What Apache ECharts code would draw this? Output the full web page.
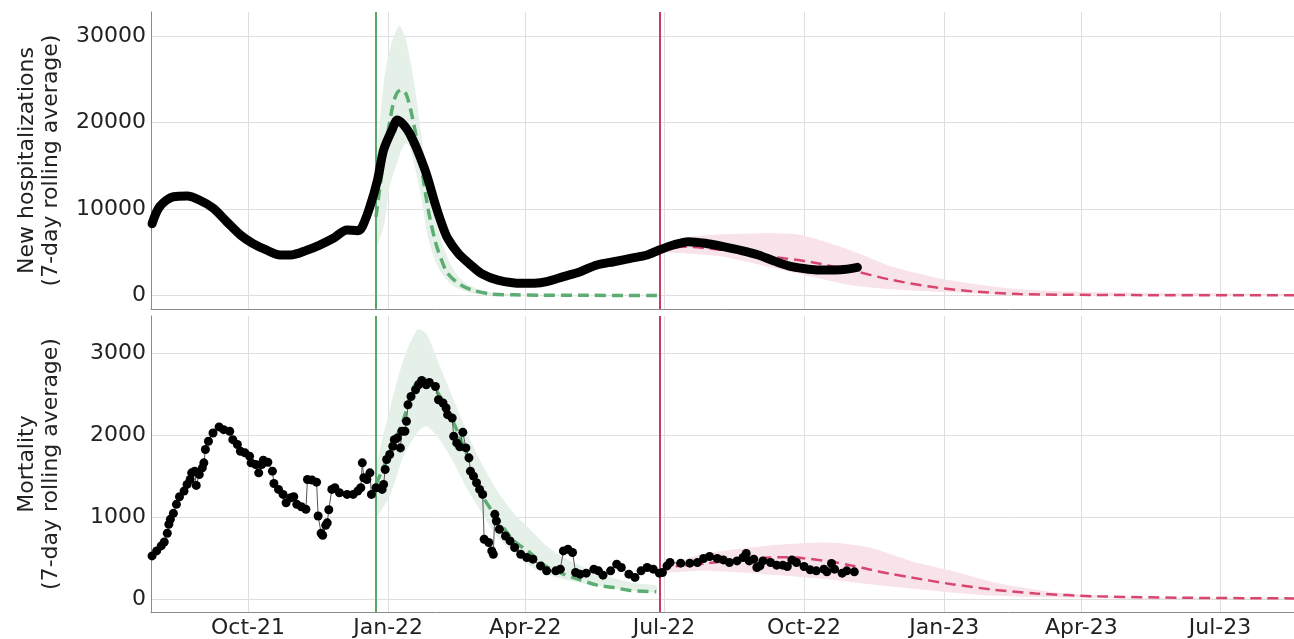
<!DOCTYPE html>
<html>
<head>
<meta charset="utf-8">
<script src="https://cdn.jsdelivr.net/npm/echarts@6/dist/echarts.min.js"></script>
<style>
  html, body { margin: 0; padding: 0; background: #fff; }
  #chart { width: 1294px; height: 639px; }
</style>
</head>
<body>
<div id="chart"></div>
<script>
// all x values are days counted from 2021-10-01
const tickDays = [0, 92, 182, 273, 365, 457, 547, 638]
const tickLabels = ['Oct-21', 'Jan-22', 'Apr-22', 'Jul-22', 'Oct-22', 'Jan-23', 'Apr-23', 'Jul-23']
const xMin = -63.7
const xMax = 686.6
const fitStartDay = 84     // green vertical line
const projStartDay = 270   // crimson vertical line

// new hospitalizations, 7-day rolling average
const hospDays = [-63, -58, -49, -40, -32, -23, -14, -5, 3, 12, 21, 28, 39, 47, 56, 65, 72, 75, 80, 85, 89, 95, 98, 106, 116, 123, 127, 131, 138, 145, 153, 164, 180, 188, 196, 207, 218, 229, 240, 251, 262, 270, 279, 289, 300, 312, 324, 335, 346, 357, 368, 379, 389, 400]
const hospVals = [8300, 10280, 11430, 11500, 11050, 10120, 8540, 7000, 6040, 5270, 4690, 4690, 5270, 5840, 6620, 7580, 7500, 7960, 10280, 13370, 16840, 19350, 20310, 18770, 14600, 10500, 8360, 6620, 4880, 3730, 2570, 1790, 1410, 1420, 1600, 2180, 2760, 3530, 3910, 4300, 4690, 5270, 5840, 6230, 6050, 5650, 5200, 4690, 3950, 3330, 3050, 2950, 2980, 3260]

// hospitalizations: fit from the green line
const hospFitDays = [84, 89, 95, 98, 101, 104, 108, 113, 118, 123, 127, 131, 138, 147, 160, 175, 192, 218, 270]
const hospFitVals = [9100, 15680, 22000, 23500, 23800, 23200, 20500, 15800, 10200, 6200, 4110, 2570, 1410, 640, 170, 80, 40, 20, 10]
const hospFitBandDays = [84, 89, 93, 99, 103, 106, 110, 113, 118, 123, 127, 132, 138, 147, 160, 180, 270]
const hospFitLow = [5700, 7960, 12590, 16000, 17600, 17200, 14500, 12000, 6800, 4000, 2600, 1500, 800, 250, 50, 0, 0]
const hospFitHigh = [14000, 24600, 28400, 31190, 30000, 27640, 23500, 19540, 13500, 8800, 6400, 4000, 2200, 1000, 350, 120, 20]

// hospitalizations: projection from the crimson line
const hospProjDays = [270, 285, 312, 340, 368, 395, 423, 451, 478, 506, 534, 592, 687]
const hospProjVals = [5100, 5650, 5270, 4570, 3910, 2950, 1790, 950, 440, 170, 90, 40, 30]
const hospProjBandDays = [270, 285, 312, 360, 395, 423, 460, 506, 561, 687]
const hospProjLow = [5000, 4880, 4490, 2570, 1220, 720, 370, 0, 0, 0]
const hospProjHigh = [5400, 6620, 7080, 7080, 5270, 3330, 1790, 720, 370, 170]

// mortality, 7-day rolling average
const mortDays = [-63, -60, -57, -55, -53, -52, -51, -49, -47, -45, -42, -40, -38, -37, -35, -34, -32, -30, -29, -28, -26, -23, -19, -16, -12, -10, -7, -5, -2, 1, 2, 5, 7, 9, 10, 13, 16, 17, 20, 23, 25, 28, 30, 32, 35, 38, 39, 42, 45, 46, 48, 49, 51, 52, 53, 55, 57, 60, 65, 69, 72, 74, 75, 76, 78, 80, 81, 84, 88, 89, 90, 91, 93, 95, 96, 98, 100, 101, 103, 104, 105, 107, 110, 112, 114, 117, 119, 123, 125, 128, 130, 131, 134, 135, 137, 139, 141, 143, 145, 146, 148, 150, 152, 154, 155, 158, 160, 161, 162, 163, 165, 169, 172, 175, 179, 183, 187, 192, 196, 202, 205, 207, 210, 213, 215, 218, 222, 227, 230, 233, 238, 242, 245, 250, 254, 258, 262, 266, 270, 272, 275, 277, 284, 290, 295, 299, 303, 308, 312, 316, 321, 325, 327, 329, 332, 334, 336, 338, 343, 347, 351, 354, 357, 360, 365, 369, 373, 378, 380, 383, 385, 390, 393, 398]
const mortVals = [527, 588, 649, 697, 803, 912, 973, 1046, 1156, 1249, 1318, 1399, 1460, 1541, 1561, 1387, 1521, 1602, 1663, 1825, 1926, 2027, 2101, 2068, 2048, 1946, 1886, 1804, 1785, 1744, 1663, 1642, 1541, 1642, 1695, 1670, 1561, 1411, 1338, 1277, 1176, 1237, 1249, 1156, 1127, 1095, 1460, 1452, 1427, 1014, 803, 778, 900, 930, 1090, 1338, 1359, 1298, 1277, 1277, 1318, 1359, 1663, 1480, 1460, 1541, 1277, 1359, 1338, 1399, 1582, 1703, 1764, 1865, 1946, 1967, 1845, 2048, 2048, 2169, 2372, 2473, 2555, 2616, 2668, 2616, 2644, 2595, 2433, 2393, 2332, 2251, 2210, 1987, 1906, 1858, 2035, 1845, 1724, 1561, 1500, 1420, 1338, 1277, 730, 690, 588, 547, 1034, 953, 852, 770, 710, 629, 547, 507, 487, 405, 344, 344, 365, 588, 608, 568, 324, 304, 316, 365, 344, 292, 344, 426, 385, 304, 264, 344, 385, 365, 316, 324, 405, 446, 438, 438, 446, 495, 519, 495, 478, 446, 466, 507, 556, 466, 487, 385, 405, 466, 446, 414, 414, 397, 478, 446, 397, 357, 344, 365, 332, 434, 365, 316, 344, 332]

// mortality: fit from the green line
const mortFitDays = [84, 93, 102, 108, 113, 119, 126, 135, 144, 152, 163, 174, 185, 196, 207, 218, 229, 240, 251, 268]
const mortFitVals = [1400, 1785, 2190, 2555, 2676, 2656, 2473, 2150, 1744, 1320, 1000, 720, 568, 395, 304, 235, 170, 140, 105, 90]
const mortFitBandDays = [84, 93, 102, 111, 117, 126, 135, 144, 152, 163, 174, 185, 196, 207, 229, 251, 268]
const mortFitLow = [1014, 1257, 1744, 2027, 2108, 1946, 1663, 1338, 1095, 770, 568, 405, 304, 243, 162, 105, 89]
const mortFitHigh = [1582, 2311, 2920, 3285, 3240, 2838, 2433, 2027, 1703, 1338, 1055, 852, 649, 507, 324, 203, 162]

// mortality: projection from the crimson line
const mortProjDays = [270, 281, 298, 327, 352, 380, 396, 408, 421, 435, 462, 490, 517, 558, 613, 687]
const mortProjVals = [340, 400, 430, 487, 510, 465, 410, 360, 310, 264, 182, 113, 69, 33, 16, 8]
const mortProjBandDays = [270, 298, 339, 380, 408, 435, 462, 490, 531, 585, 687]
const mortProjLow = [320, 344, 304, 243, 182, 130, 81, 41, 20, 5, 0]
const mortProjHigh = [370, 547, 649, 690, 628, 466, 344, 203, 81, 20, 8]

const FONT = 'DejaVu Sans'
const GREEN = '#55a868'
const GREEN_FIT = '#5cad72'
const GREEN_BAND = '#e5f1e8'
const CRIMSON = '#c93a64'
const RED_FIT = '#d8456f'
const RED_BAND = '#f9e3ea'

const pairs = (days, vals) => days.map((d, i) => [d, vals[i]])

// shaded interval drawn as one polygon through the axis scales
function band(days, low, high, color, gi) {
  return {
    type: 'custom',
    xAxisIndex: gi,
    yAxisIndex: gi,
    silent: true,
    clip: true,
    z: 1,
    data: days.map((d, i) => [d, low[i], high[i]]),
    encode: { x: 0, y: [1, 2] },
    renderItem: (params, api) => {
      if (params.dataIndex !== 0) return
      const top = days.map((d, i) => api.coord([d, high[i]]))
      const bottom = days.map((d, i) => api.coord([d, low[i]])).reverse()
      return {
        type: 'polygon',
        shape: { points: top.concat(bottom), smooth: 0.25 },
        style: { fill: color }
      }
    }
  }
}

function dashed(days, vals, color, width, gi) {
  return {
    type: 'line',
    xAxisIndex: gi,
    yAxisIndex: gi,
    data: pairs(days, vals),
    symbol: 'none',
    smooth: 0.3,
    silent: true,
    z: 3,
    lineStyle: { color, width, type: [11, 6] }
  }
}

function vlines(gi) {
  return {
    type: 'line',
    xAxisIndex: gi,
    yAxisIndex: gi,
    data: [],
    z: 2,
    markLine: {
      silent: true,
      symbol: ['none', 'none'],
      label: { show: false },
      animation: false,
      data: [
        { xAxis: fitStartDay, lineStyle: { color: GREEN, width: 2, type: 'solid' } },
        { xAxis: projStartDay, lineStyle: { color: CRIMSON, width: 2, type: 'solid' } }
      ]
    }
  }
}

function xAxis(gi, showLabels) {
  return {
    type: 'value',
    gridIndex: gi,
    min: xMin,
    max: xMax,
    axisLine: { show: true, onZero: false, lineStyle: { color: '#8a8a8a', width: 1 } },
    axisTick: { show: false, customValues: tickDays },
    axisLabel: {
      show: showLabels,
      customValues: tickDays,
      formatter: v => tickLabels[tickDays.indexOf(v)] || '',
      fontSize: 22,
      color: '#222',
      fontFamily: FONT,
      margin: 5
    },
    splitLine: { show: true, lineStyle: { color: '#dedede', width: 1 } }
  }
}

function yAxis(gi, min, max, step, name) {
  return {
    type: 'value',
    gridIndex: gi,
    min,
    max,
    minInterval: step,
    maxInterval: step,
    name,
    nameLocation: 'middle',
    nameRotate: 90,
    nameGap: 88,
    nameTextStyle: { fontSize: 22, lineHeight: 24, color: '#222', fontFamily: FONT },
    axisLine: { show: true, onZero: false, lineStyle: { color: '#8a8a8a', width: 1 } },
    axisTick: { show: false },
    axisLabel: {
      formatter: v => String(v),
      showMinLabel: false,
      showMaxLabel: false,
      fontSize: 22,
      color: '#222',
      fontFamily: FONT,
      margin: 5
    },
    splitLine: { show: true, showMinLine: false, showMaxLine: false, lineStyle: { color: '#dedede', width: 1 } }
  }
}

const chart = echarts.init(document.getElementById('chart'))

chart.setOption({
  animation: false,
  backgroundColor: '#fff',
  textStyle: { fontFamily: FONT },
  grid: [
    { left: 151, top: 12, width: 1143, height: 297 },
    { left: 151, top: 316, width: 1143, height: 297 }
  ],
  xAxis: [xAxis(0, false), xAxis(1, true)],
  yAxis: [
    yAxis(0, -1560, 32800, 10000, 'New hospitalizations\n(7-day rolling average)'),
    yAxis(1, -158, 3455, 1000, 'Mortality\n(7-day rolling average)')
  ],
  series: [
    band(hospFitBandDays, hospFitLow, hospFitHigh, GREEN_BAND, 0),
    band(hospProjBandDays, hospProjLow, hospProjHigh, RED_BAND, 0),
    band(mortFitBandDays, mortFitLow, mortFitHigh, GREEN_BAND, 1),
    band(mortProjBandDays, mortProjLow, mortProjHigh, RED_BAND, 1),
    vlines(0),
    vlines(1),
    dashed(hospFitDays, hospFitVals, GREEN_FIT, 3.5, 0),
    dashed(hospProjDays, hospProjVals, RED_FIT, 2.5, 0),
    dashed(mortFitDays, mortFitVals, GREEN_FIT, 3.5, 1),
    dashed(mortProjDays, mortProjVals, RED_FIT, 2.5, 1),
    {
      name: 'Hospitalizations',
      type: 'line',
      xAxisIndex: 0,
      yAxisIndex: 0,
      data: pairs(hospDays, hospVals),
      symbol: 'none',
      smooth: 0.3,
      z: 5,
      lineStyle: { color: '#000', width: 9, cap: 'round', join: 'round' }
    },
    {
      name: 'Mortality',
      type: 'line',
      xAxisIndex: 1,
      yAxisIndex: 1,
      data: pairs(mortDays, mortVals),
      symbol: 'circle',
      symbolSize: 9,
      showAllSymbol: true,
      z: 5,
      itemStyle: { color: '#000' },
      lineStyle: { color: '#555', width: 1 }
    }
  ]
})
</script>
</body>
</html>
